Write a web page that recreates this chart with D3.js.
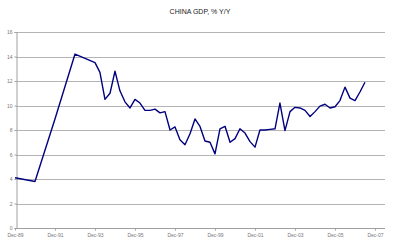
<html>
<meta charset="utf-8">
<style>
  body { margin: 0; background: #fff; }
  text { font-family: "Liberation Sans", Arial, sans-serif; }
</style>
<body>
<script src="https://d3js.org/d3.v7.min.js"></script>
<script>
// annual points first, then quarterly from Dec-93
var dates = ["1989-12", "1990-12", "1991-12", "1992-12",
  "1993-12",
  "1994-03", "1994-06", "1994-09", "1994-12",
  "1995-03", "1995-06", "1995-09", "1995-12",
  "1996-03", "1996-06", "1996-09", "1996-12",
  "1997-03", "1997-06", "1997-09", "1997-12",
  "1998-03", "1998-06", "1998-09", "1998-12",
  "1999-03", "1999-06", "1999-09", "1999-12",
  "2000-03", "2000-06", "2000-09", "2000-12",
  "2001-03", "2001-06", "2001-09", "2001-12",
  "2002-03", "2002-06", "2002-09", "2002-12",
  "2003-03", "2003-06", "2003-09", "2003-12",
  "2004-03", "2004-06", "2004-09", "2004-12",
  "2005-03", "2005-06", "2005-09", "2005-12",
  "2006-03", "2006-06", "2006-09", "2006-12",
  "2007-03", "2007-06"];
var gdp = [4.1, 3.8, 8.9, 14.2,
  13.5,
  12.7, 10.5, 11.0, 12.8,
  11.2, 10.3, 9.8, 10.5,
  10.2, 9.6, 9.6, 9.7,
  9.4, 9.5, 8.0, 8.25,
  7.2, 6.8, 7.7, 8.9,
  8.3, 7.1, 7.0, 6.05,
  8.1, 8.3, 7.0, 7.3,
  8.1, 7.75, 7.05, 6.6,
  8.0, 8.0, 8.05, 8.1,
  10.2, 7.95, 9.5, 9.85,
  9.8, 9.6, 9.1, 9.5,
  9.95, 10.1, 9.8, 9.9,
  10.4, 11.5, 10.6, 10.4,
  11.1, 11.9];
var xTicks = ["1989-12", "1991-12", "1993-12", "1995-12", "1997-12",
  "1999-12", "2001-12", "2003-12", "2005-12", "2007-12"];
var yTicks = [0, 2, 4, 6, 8, 10, 12, 14, 16];

var parse = d3.timeParse("%Y-%m");
var data = dates.map(function(d, i) { return {date: parse(d), value: gdp[i]}; });

var width = 400, height = 246;
var plot = {left: 16, right: 385, top: 32, bottom: 228};

var x = d3.scaleTime()
  .domain([parse("1989-12"), parse("2007-12")])
  .range([15, 375]);
var y = d3.scaleLinear().domain([0, 16]).range([plot.bottom, plot.top]);

var svg = d3.select("body").append("svg")
  .attr("width", width)
  .attr("height", height);

// title
svg.append("text")
  .attr("x", 200)
  .attr("y", 14)
  .attr("text-anchor", "middle")
  .style("font-size", "7px")
  .style("fill", "#222")
  .text("CHINA GDP, % Y/Y");

// gridlines
svg.append("g")
  .selectAll("line")
  .data(yTicks.filter(function(d) { return d > 0; }))
  .enter()
  .append("line")
  .attr("x1", plot.left)
  .attr("x2", plot.right)
  .attr("y1", function(d) { return Math.round(y(d)) + 0.5; })
  .attr("y2", function(d) { return Math.round(y(d)) + 0.5; })
  .style("stroke", "#b4b4b4")
  .style("stroke-width", 1);

// y axis
var yAxis = d3.axisLeft(y)
  .tickValues(yTicks)
  .tickSize(2)
  .tickPadding(2)
  .tickFormat(d3.format("d"));
var gy = svg.append("g")
  .attr("transform", "translate(" + (plot.left + 0.5) + ",0)")
  .call(yAxis);

// x axis
var xAxis = d3.axisBottom(x)
  .tickValues(xTicks.map(parse))
  .tickSize(2)
  .tickPadding(3)
  .tickFormat(d3.timeFormat("Dec-%y"));
var gx = svg.append("g")
  .attr("transform", "translate(0," + (plot.bottom + 0.5) + ")")
  .call(xAxis);
gx.select(".domain").attr("d", "M" + plot.left + ",0H" + plot.right);

svg.selectAll(".domain").style("stroke", "#a0a0a0");
svg.selectAll(".tick line").style("stroke", "#a0a0a0");
svg.selectAll(".tick text")
  .style("font-size", "5px")
  .style("fill", "#777")
  .style("font-family", "'Liberation Sans', Arial, sans-serif");

// series
var line = d3.line()
  .x(function(d) { return x(d.date); })
  .y(function(d) { return y(d.value); });

svg.append("path")
  .datum(data)
  .attr("d", line)
  .style("fill", "none")
  .style("stroke", "#000080")
  .style("stroke-width", 1.4)
  .style("stroke-linejoin", "round");
</script>
</body>
</html>
